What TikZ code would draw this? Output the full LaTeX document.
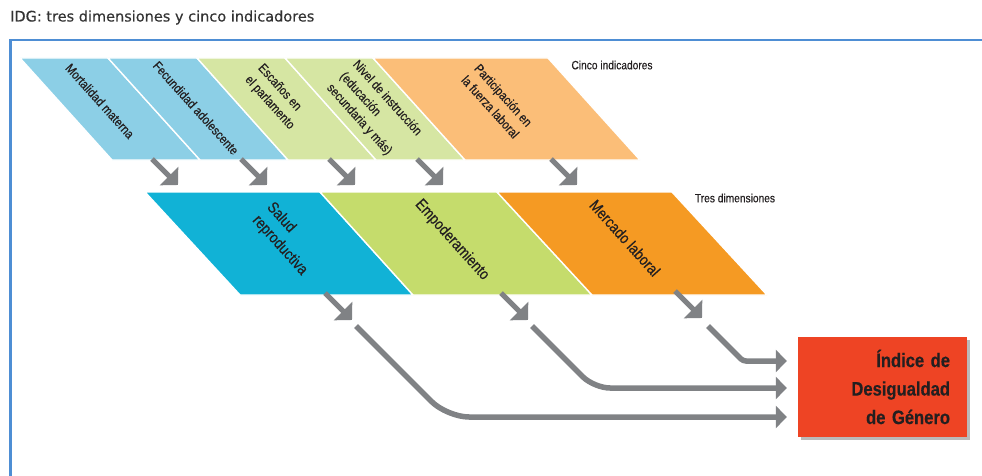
\documentclass[tikz,border=0pt]{standalone}
\usepackage{fontspec}
\usetikzlibrary{arrows.meta,shadows,calc}
\setmainfont{Liberation Sans}
\newfontfamily\condfont[FakeStretch=0.85,FakeBold=0.35]{Liberation Sans}
\newfontfamily\titlefont[FakeBold=0.3]{DejaVu Sans}
\definecolor{frameblue}{RGB}{78,142,212}
\definecolor{lblue}{RGB}{140,207,230}
\definecolor{lgreen}{RGB}{214,230,163}
\definecolor{lorange}{RGB}{251,190,120}
\definecolor{dcyan}{RGB}{17,178,214}
\definecolor{dgreen}{RGB}{197,220,108}
\definecolor{dorange}{RGB}{245,154,35}
\definecolor{idgred}{RGB}{238,68,36}
\definecolor{arrgray}{RGB}{128,130,133}
\definecolor{txt}{RGB}{35,31,32}
\tikzset{
  para/.style={draw=white, line width=1.4pt, line join=miter},
  lbl/.style={inner sep=0pt, rotate=-48, align=left, text=txt},
  rowone/.style={lbl, font=\condfont\fontsize{13}{17.5}\selectfont},
  rowtwo/.style={lbl, font=\condfont\fontsize{15.8}{19.5}\selectfont},
  heading/.style={inner sep=0pt, text=txt, font=\condfont\fontsize{12}{13}\selectfont},
  smallarrow/.style={draw=arrgray, line width=5pt, -{Triangle[length=12.7pt,width=25.5pt]}},
  bigline/.style={draw=arrgray, line width=5.5pt, -{Triangle[length=11pt,width=22pt]}},
  idgbox/.style={fill=idgred, minimum width=169pt, minimum height=100pt, inner xsep=17pt,
     text width=135pt, align=right, text=txt,
     font=\condfont\bfseries\fontsize{19.5}{28.5}\selectfont,
     drop shadow={shadow xshift=3pt, shadow yshift=-3pt, opacity=0.45, fill=black!60}}
}
\begin{document}
\begin{tikzpicture}[x=1pt,y=-1pt]
\useasboundingbox (0,0) rectangle (982,476);
% title
\node[anchor=base west, inner sep=0pt, text=black!80, font=\titlefont\fontsize{14.5}{16}\selectfont] (title) at (10,21.5) {IDG: tres dimensiones y cinco indicadores};
% frame
\draw[frameblue, line width=2.2pt] (982,40) -- (10.5,40) -- (10.5,476);
% top row
\fill[lblue,para] (20,58) -- (108,58) -- (200,160) -- (112,160) -- cycle;
\fill[lblue,para] (108,58) -- (197,58) -- (288,160) -- (200,160) -- cycle;
\fill[lgreen,para] (197,58) -- (285,58) -- (376,160) -- (288,160) -- cycle;
\fill[lgreen,para] (285,58) -- (373,58) -- (465,160) -- (376,160) -- cycle;
\fill[lorange,para] (373,58) -- (548,58) -- (640,160) -- (465,160) -- cycle;
% second row
\fill[dcyan,para] (145,192) -- (320,192) -- (413,295) -- (240,295) -- cycle;
\fill[dgreen,para] (320,192) -- (497,192) -- (592,295) -- (413,295) -- cycle;
\fill[dorange,para] (497,192) -- (672,192) -- (767,295) -- (592,295) -- cycle;
% labels top row
\node[rowone] (mort) at (100,101) {Mortalidad materna};
\node[rowone] (fec) at (196,108) {Fecundidad adolescente};
\node[rowone] (esc) at (276,97) {Escaños en\\el parlamento};
\node[rowone] (niv) at (374,110) {Nivel de instrucción\\(educación\\secundaria y más)};
\node[rowone] (par) at (497,101) {Participación en\\la fuerza laboral};
\node[heading] (cinco) at (612,65) {Cinco indicadores};
% labels second row
\node[rowtwo] (salud) at (287,239) {Salud\\reproductiva};
\node[rowtwo] (emp) at (452,240) {Empoderamiento};
\node[rowtwo] (merc) at (625,238) {Mercado laboral};
\node[heading] (tres) at (735,198) {Tres dimensiones};
% small arrows top row
\coordinate (a1s) at (152,159); \coordinate (a1e) at (178,185);
\coordinate (a2s) at (241,159); \coordinate (a2e) at (267,185);
\coordinate (a3s) at (329,159); \coordinate (a3e) at (355,185);
\coordinate (a4s) at (417,159); \coordinate (a4e) at (443,185);
\coordinate (a5s) at (551,159); \coordinate (a5e) at (577,185);
\foreach \i in {1,...,5} {\draw[smallarrow] (a\i s) -- (a\i e);}
% small arrows second row
\coordinate (b1s) at (325,293); \coordinate (b1e) at (352,320);
\coordinate (b2s) at (501,293); \coordinate (b2e) at (528,320);
\coordinate (b3s) at (675,291); \coordinate (b3e) at (702,318);
\foreach \i in {1,2,3} {\draw[smallarrow] (b\i s) -- (b\i e);}
% index box
\node[idgbox] (idg) at (882.5,387) {Índice de\\Desigualdad\\de Género};
% long connectors
\coordinate (l1s) at (356,326); \coordinate (l1c) at (447,417);
\coordinate (l2s) at (532,326); \coordinate (l2c) at (594,388);
\coordinate (l3s) at (708,326); \coordinate (l3c) at (743,361);
\draw[bigline, rounded corners=22pt] (l1s) -- (l1c) -- ($(idg.west)+(-11,30)$);
\draw[bigline, rounded corners=16pt] (l2s) -- (l2c) -- ($(idg.west)+(-11,1)$);
\draw[bigline, rounded corners=3pt] (l3s) -- (l3c) -- ($(idg.west)+(-11,-26)$);
\end{tikzpicture}
\end{document}
